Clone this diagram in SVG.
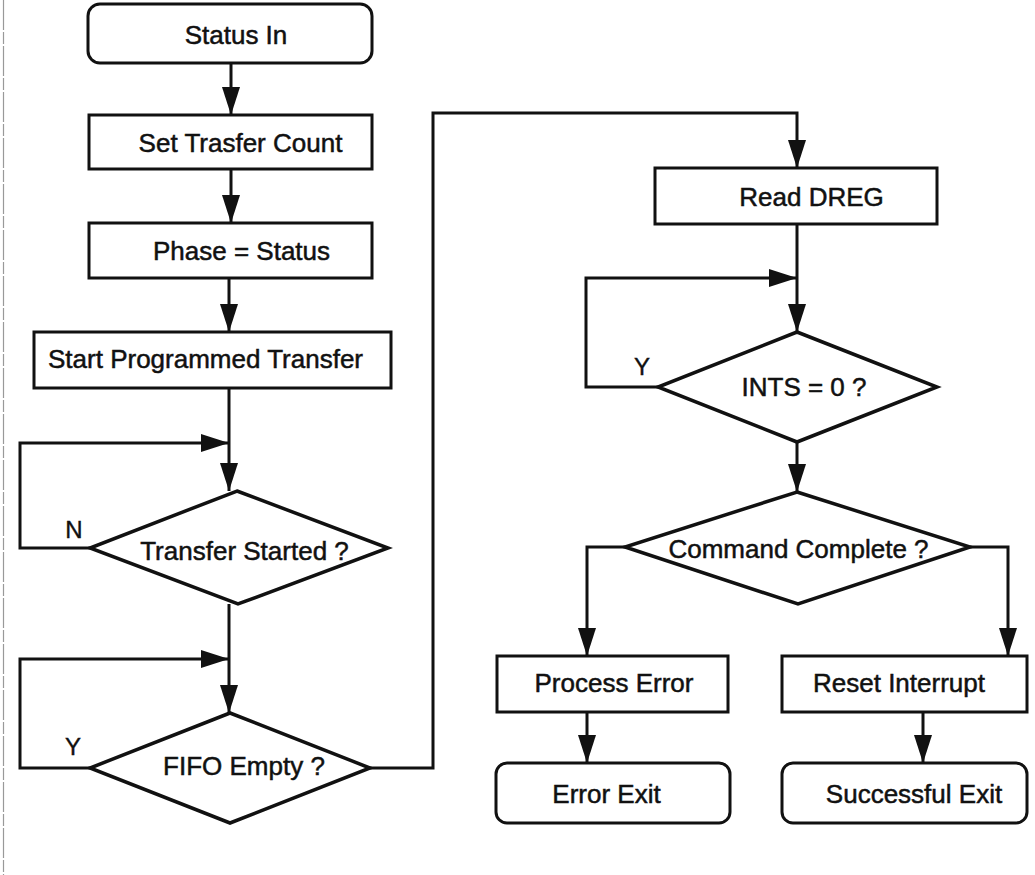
<svg xmlns="http://www.w3.org/2000/svg" width="1035" height="875" viewBox="0 0 1035 875">
  <style>
    .box { fill: #fff; stroke: #111; stroke-width: 3; }
    .dec { fill: #fff; stroke: #111; stroke-width: 3.5; stroke-linejoin: miter; }
    .lbl { font-family: "Liberation Sans", Arial, sans-serif; font-size: 26px; fill: #111; stroke: #111; stroke-width: 0.5; text-anchor: middle; }
    .yn { font-family: "Liberation Sans", Arial, sans-serif; font-size: 24px; fill: #111; stroke: #111; stroke-width: 0.4; text-anchor: middle; }
    .wire { fill: none; stroke: #111; stroke-width: 3; stroke-linejoin: miter; marker-end: url(#head); }
  </style>
  <defs>
    <marker id="head" markerUnits="userSpaceOnUse" markerWidth="28" markerHeight="18" refX="28" refY="9" orient="auto">
      <path d="M0,0 L28,9 L0,18 Z" fill="#111"/>
    </marker>
  </defs>

  <rect width="1035" height="875" fill="#fff"/>
  <!-- page margin rule -->
  <line x1="3.5" y1="0" x2="3.5" y2="875" stroke="#999" stroke-width="1.2" stroke-dasharray="30 2 12 2"/>

  <g id="connectors">
    <path class="wire" d="M231,63 V115"/>
    <path class="wire" d="M231,169 V223"/>
    <path class="wire" d="M229,278 V332"/>
    <path class="wire" d="M229,388 V491"/>
    <path class="wire" d="M90,548 H20 V443 H229"/>
    <path class="wire" d="M229,604 V713"/>
    <path class="wire" d="M90,768 H20 V659 H229"/>
    <path class="wire" d="M370,768 H433 V113 H797 V168"/>
    <path class="wire" d="M797,224 V332"/>
    <path class="wire" d="M658,387 H586 V278 H797"/>
    <path class="wire" d="M797,442 V492"/>
    <path class="wire" d="M625,547 H587 V656"/>
    <path class="wire" d="M970,547 H1008 V656"/>
    <path class="wire" d="M587,712 V763"/>
    <path class="wire" d="M923,712 V763"/>
    <text class="yn" x="74" y="538">N</text>
    <text class="yn" x="73" y="755">Y</text>
    <text class="yn" x="642" y="375">Y</text>
  </g>

  <g id="status-in">
    <rect class="box" x="88" y="4" width="284" height="59" rx="12"/>
    <text class="lbl" x="236" y="44">Status In</text>
  </g>
  <g id="set-transfer-count">
    <rect class="box" x="89" y="115" width="283" height="54"/>
    <text class="lbl" x="240.5" y="152">Set Trasfer Count</text>
  </g>
  <g id="phase-status">
    <rect class="box" x="89" y="223" width="283" height="55"/>
    <text class="lbl" x="241.5" y="260">Phase = Status</text>
  </g>
  <g id="start-transfer">
    <rect class="box" x="34" y="332" width="357" height="56"/>
    <text class="lbl" x="205.5" y="368">Start Programmed Transfer</text>
  </g>
  <g id="transfer-started">
    <polygon class="dec" points="237,491 388,548 238,604 90,548"/>
    <text class="lbl" x="244.5" y="560">Transfer Started ?</text>
  </g>
  <g id="fifo-empty">
    <polygon class="dec" points="230,713 370,768 230,823 90,768"/>
    <text class="lbl" x="244" y="775">FIFO Empty ?</text>
  </g>
  <g id="read-dreg">
    <rect class="box" x="655" y="168" width="282" height="56"/>
    <text class="lbl" x="811.5" y="206">Read DREG</text>
  </g>
  <g id="ints-zero">
    <polygon class="dec" points="797,332 937,387 797,442 658,387"/>
    <text class="lbl" x="804" y="396">INTS = 0 ?</text>
  </g>
  <g id="command-complete">
    <polygon class="dec" points="797,492 970,547 798,604 625,547"/>
    <text class="lbl" x="798.5" y="558">Command Complete ?</text>
  </g>
  <g id="process-error">
    <rect class="box" x="497" y="656" width="231" height="56"/>
    <text class="lbl" x="614" y="692">Process Error</text>
  </g>
  <g id="reset-interrupt">
    <rect class="box" x="782" y="656" width="245" height="56"/>
    <text class="lbl" x="899" y="692">Reset Interrupt</text>
  </g>
  <g id="error-exit">
    <rect class="box" x="496" y="763" width="234" height="60" rx="11"/>
    <text class="lbl" x="606.5" y="803">Error Exit</text>
  </g>
  <g id="successful-exit">
    <rect class="box" x="782" y="763" width="245" height="60" rx="11"/>
    <text class="lbl" x="914" y="803">Successful Exit</text>
  </g>
</svg>
